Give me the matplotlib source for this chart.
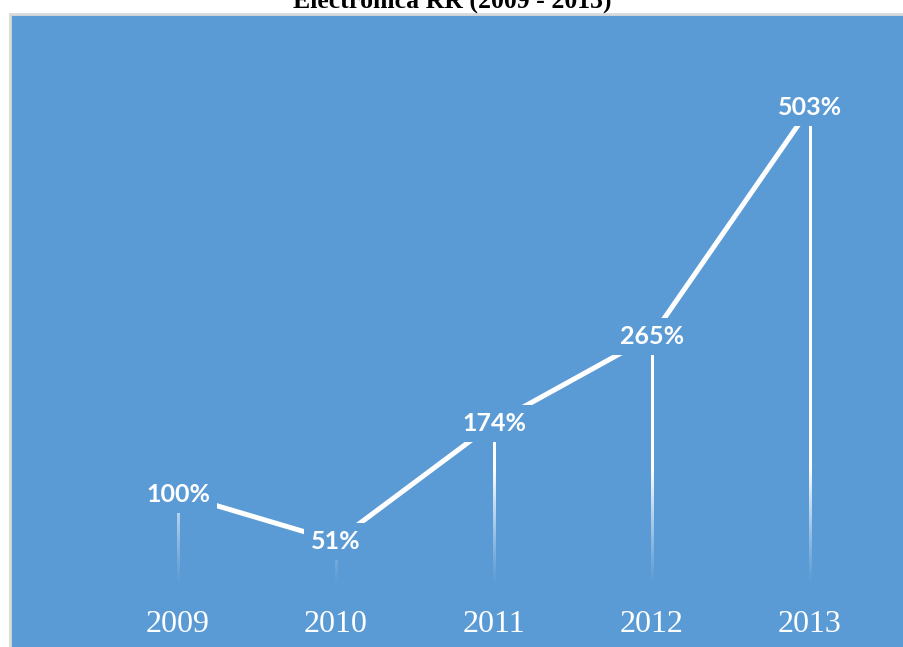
import numpy as np
import matplotlib.pyplot as plt

years  = ["2009", "2010", "2011", "2012", "2013"]
values = [100, 51, 174, 265, 503]
labels = ["100%", "51%", "174%", "265%", "503%"]

BLUE = "#5b9bd5"

fig = plt.figure(figsize=(9.04, 6.47), dpi=100)
ax = fig.add_axes([10/904, 0, 894/904, 1 - 14/647])
ax.set_facecolor(BLUE)
for s in ax.spines.values():
    s.set_visible(False)
for side in ('left', 'top'):
    ax.spines[side].set_visible(True)
    ax.spines[side].set_color('#d9d9d9')
    ax.spines[side].set_linewidth(2)

x = np.arange(len(values))
xlim = (-1.063, 4.595)
ylim = (-59.5, 601)

# drop lines as thin gradient images, fading out towards the bottom
half_w = 1.4 / 894 * (xlim[1] - xlim[0])
for xi, v in zip(x, values):
    ys = np.linspace(v, 5, 200)
    alpha = np.clip((ys - 5) / 120, 0, 1) ** 1.2
    img = np.ones((len(ys), 1, 4))
    img[:, 0, 3] = alpha
    ax.imshow(img, extent=(xi - half_w, xi + half_w, 5, v), origin='upper',
              aspect='auto', interpolation='bilinear', zorder=2)

ax.plot(x, values, color='white', lw=3.6, solid_capstyle='butt', zorder=3)

for xi, v, lab in zip(x, values, labels):
    ax.text(xi, v, lab, ha='center', va='center', color='white',
            fontsize=18, fontweight='bold', family='Lato', zorder=5,
            bbox=dict(facecolor=BLUE, edgecolor='none', pad=5))

ax.set_xlim(*xlim)
ax.set_ylim(*ylim)
ax.set_xticks([])
ax.set_yticks([])

for xi, yr in zip(x, years):
    ax.text(xi, 0.036, yr, transform=ax.get_xaxis_transform(), ha='center',
            va='center', color='white', fontsize=23, family='Liberation Serif')

fig.text(0.5, 1 - 8/647, "Electrónica RR (2009 - 2013)", ha='center', va='baseline',
         fontsize=18.5, fontweight='bold', family='Liberation Serif', color='black')

fig.savefig("out.png", dpi=100)
